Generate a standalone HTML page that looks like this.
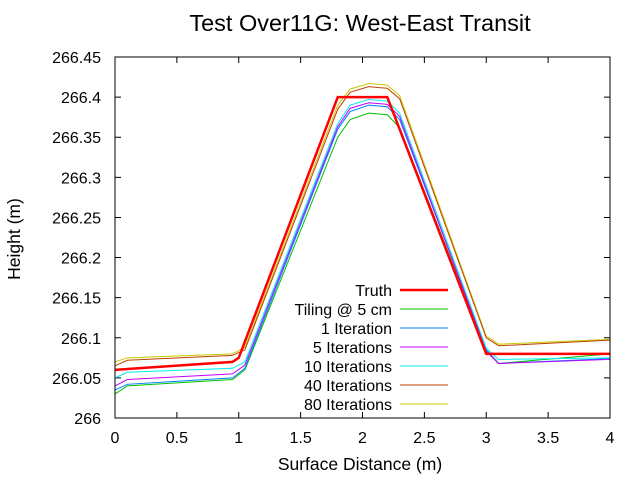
<!DOCTYPE html>
<html><head><meta charset="utf-8"><style>
body{margin:0;background:#fff}
svg{font-family:"Liberation Sans",sans-serif}
</style></head><body>
<svg width="640" height="480" id="c">
<text x="360" y="31" font-size="23.5" text-anchor="middle">Test Over11G: West-East Transit</text>
<text x="360" y="470" font-size="17.5" text-anchor="middle">Surface Distance (m)</text>
<text x="20" y="239" font-size="17.5" text-anchor="middle" transform="rotate(-90 20 239)">Height (m)</text>
<g id="ticks"></g><g id="lines"></g><g id="legend"></g>
<rect x="115" y="57" width="495" height="361" fill="none" stroke="#000"/>
</svg>
<script>
const xTicks=[0,0.5,1,1.5,2,2.5,3,3.5,4];
const yTicks=[266,266.05,266.1,266.15,266.2,266.25,266.3,266.35,266.4,266.45];
const seriesNames=["Truth","Tiling @ 5 cm","1 Iteration","5 Iterations","10 Iterations","40 Iterations","80 Iterations"];
const seriesColors=["#ff0000","#00c000","#0080ff","#c000ff","#00eeee","#c04000","#c8c800"];
const truthX=[0,0.95,1.0,1.8,2.2,3.0,4];
const truthY=[266.06,266.07,266.075,266.4,266.4,266.08,266.08];
const curveX=[0,0.1,0.95,1.05,1.8,1.9,2.05,2.2,2.3,3.0,3.1,4];
const tilingY=[266.03,266.04,266.048,266.06,266.35,266.372,266.38,266.378,266.362,266.085,266.068,266.08];
const iter1Y=[266.035,266.042,266.05,266.062,266.36,266.382,266.39,266.388,266.372,266.085,266.068,266.074];
const iter5Y=[266.04,266.048,266.055,266.066,266.363,266.386,266.393,266.391,266.376,266.083,266.068,266.073];
const iter10Y=[266.05,266.057,266.062,266.07,266.367,266.39,266.397,266.395,266.38,266.087,266.073,266.075];
const iter40Y=[266.065,266.072,266.078,266.085,266.385,266.406,266.413,266.411,266.398,266.1,266.09,266.097];
const iter80Y=[266.07,266.075,266.08,266.088,266.39,266.41,266.417,266.415,266.402,266.102,266.092,266.098];
const X=v=>115+v/4*495, Y=v=>418-(v-266)/0.45*361;
const NS="http://www.w3.org/2000/svg";
const tg=document.getElementById('ticks');
function mk(tag,attrs,parent){const e=document.createElementNS(NS,tag);for(const k in attrs)e.setAttribute(k,attrs[k]);parent.appendChild(e);return e;}
xTicks.forEach(t=>{const x=X(t);
 const l=mk('path',{d:`M${x},418v-6M${x},57v6`,stroke:'#000'},tg);
 
 
 const s=mk('text',{x:x,y:443,'font-size':16,'text-anchor':'middle'},tg);s.textContent=t;
 
 });
yTicks.forEach(t=>{const y=Y(t);
 const l=mk('path',{d:`M115,${y}h6M610,${y}h-6`,stroke:'#000'},tg);
 
 
 const s=mk('text',{x:101,y:y+6,'font-size':16,'text-anchor':'end'},tg);s.textContent=+t.toFixed(2);
 
 });
const lg=document.getElementById('lines');
const data=[[truthX,truthY],[curveX,tilingY],[curveX,iter1Y],[curveX,iter5Y],[curveX,iter10Y],[curveX,iter40Y],[curveX,iter80Y]];
const order=[1,2,3,4,6,5,0];
order.forEach(i=>{const [xs,ys]=data[i];
 const p=mk('polyline',{points:xs.map((x,j)=>X(x)+','+Y(ys[j])).join(' '),fill:'none',stroke:seriesColors[i],'stroke-width':i==0?2.5:1},lg);
 
 });
const leg=document.getElementById('legend');
seriesNames.forEach((n,i)=>{const y=290+i*19;
 const t=mk('text',{x:392,y:y+6,'font-size':16,'text-anchor':'end'},leg);t.textContent=n;
 
 
 const l=mk('line',{x1:400,x2:448,y1:y,y2:y,stroke:seriesColors[i],'stroke-width':i==0?2.5:1},leg);
 
 });
</script>
</body></html>
